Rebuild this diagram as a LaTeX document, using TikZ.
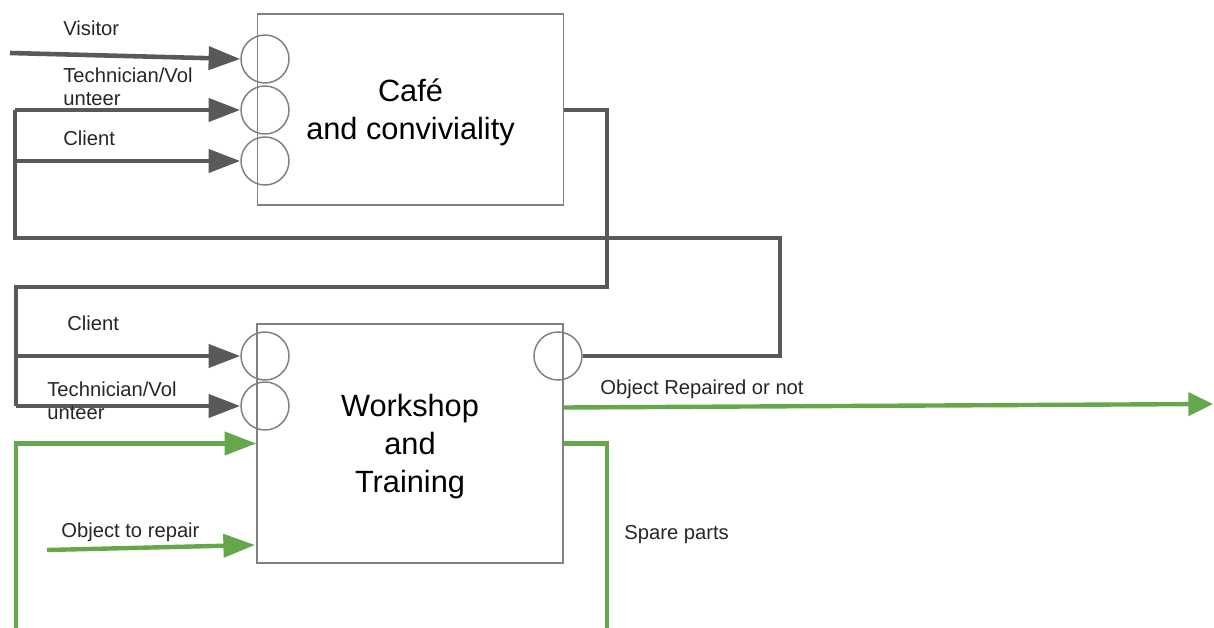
\documentclass[tikz,border=0pt]{standalone}
\usepackage{fontspec}
\setmainfont{Liberation Sans}
\usetikzlibrary{arrows.meta,calc}
\definecolor{boxGray}{HTML}{808080}
\definecolor{flowGray}{HTML}{595959}
\definecolor{flowGreen}{HTML}{64A84B}
\definecolor{labelInk}{HTML}{262626}

\begin{document}
\begin{tikzpicture}[x=0.02cm,y=-0.02cm,
  block/.style={draw=boxGray,line width=0.85pt,minimum width=6.12cm},
  blocktext/.style={align=center,inner sep=0pt,font=\fontsize{17.5}{21.8}\selectfont},
  port/.style={circle,draw=boxGray,line width=0.85pt,minimum size=0.96cm,inner sep=0pt},
  grayflow/.style={flowGray,line width=2.6pt},
  greenflow/.style={flowGreen,line width=2.5pt},
  flowtip/.style={-{Triangle[length=18pt,width=13pt]}},
  lbl/.style={anchor=west,inner sep=0pt,align=left,text=labelInk,
    font=\fontsize{11.5}{13}\selectfont}]
\useasboundingbox (0,0) rectangle (1214,628);

% blocks
\node[block,minimum height=3.82cm] (cafe) at (410.5,109.5) {};
\node[block,minimum height=4.78cm] (workshop) at (410,443.5) {};
\node[blocktext] (cafeText) at ($(cafe.center)+(0,3)$) {Café\\and conviviality};
\node[blocktext] (workshopText) at ($(workshop.center)+(0,3)$) {Workshop\\and\\Training};

% ports
\node[port] (cv) at (265,59) {};
\node[port] (ct) at (265,110) {};
\node[port] (cc) at (265,161) {};
\node[port] (wc) at (265,356) {};
\node[port] (wt) at (265,406) {};
\node[port] (wo) at (558,356) {};

% bus coordinates
\coordinate (visitorIn) at (10,53);
\coordinate (leftBus) at (15,238);
\coordinate (rightBus) at (780,238);
\coordinate (midBus) at (607,287);
\coordinate (leftBusTwo) at (16,287);
\coordinate (reuseStart) at (16,632);
\coordinate (spareEnd) at (607,632);
\coordinate (repairIn) at (47,550);
\coordinate (repairTip) at (255,545);
\coordinate (repairedOut) at (1213,404);

% gray flows
\draw[grayflow,flowtip] (visitorIn) -- (cv.west);
\draw[grayflow] (wo.east) -| (rightBus) -| (ct.west -| leftBus);
\draw[grayflow,flowtip] (ct.west -| leftBus) -- (ct.west);
\draw[grayflow,flowtip] (cc.west -| leftBus) -- (cc.west);
\draw[grayflow] (cafe.east |- ct.center) -| (midBus) -| (wt.west -| leftBusTwo);
\draw[grayflow,flowtip] (wc.west -| leftBusTwo) -- (wc.west);
\draw[grayflow,flowtip] (wt.west -| leftBusTwo) -- (wt.west);

% green flows
\draw[greenflow,flowtip] (reuseStart) |- (workshop.west);
\draw[greenflow,flowtip] (repairIn) -- (repairTip);
\draw[greenflow] (workshop.east) -| (spareEnd);
\draw[greenflow,-{Triangle[length=14pt,width=13pt]}] ($(workshop.east)+(0,-36)$) -- (repairedOut);

% labels
\node[lbl] (visitorLbl) at (63,28) {Visitor};
\node[lbl] (techLblA) at (63,86.5) {Technician/Vol\\unteer};
\node[lbl] (clientLblA) at (63,138) {Client};
\node[lbl] (clientLblB) at (67,323) {Client};
\node[lbl] (techLblB) at (47,401) {Technician/Vol\\unteer};
\node[lbl] (repairLbl) at (61,532) {Object to repair};
\node[lbl] (repairedLbl) at (600,389) {Object Repaired or not};
\node[lbl] (spareLbl) at (624,535) {Spare parts};
\end{tikzpicture}
\end{document}
